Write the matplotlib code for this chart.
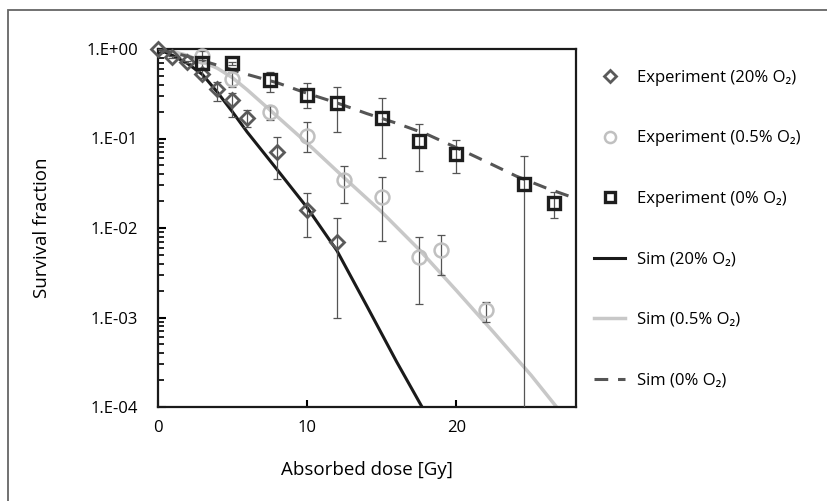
import numpy as np
import matplotlib
matplotlib.use('Agg')
from matplotlib import pyplot as plt
from matplotlib.patches import Rectangle
from matplotlib.ticker import FixedLocator, FixedFormatter, LogLocator, NullFormatter

plt.rcParams['font.family'] = ['Open Sans', 'DejaVu Sans']

# experiment, 20% O2
dose_20 = [0, 1, 2, 3, 4, 5, 6, 8, 10, 12]
sf_20 = [1.0, 0.82, 0.72, 0.53, 0.36, 0.27, 0.17, 0.071, 0.016, 0.0069]
lo_20 = [1.0, 0.80, 0.70, 0.47, 0.26, 0.175, 0.135, 0.035, 0.008, 0.001]
hi_20 = [1.0, 0.84, 0.74, 0.60, 0.43, 0.32, 0.21, 0.105, 0.0245, 0.013]

# experiment, 0.5% O2
dose_05 = [3, 5, 7.5, 10, 12.5, 15, 17.5, 19, 22]
sf_05 = [0.84, 0.46, 0.20, 0.107, 0.034, 0.022, 0.0047, 0.0057, 0.0012]
lo_05 = [0.76, 0.38, 0.16, 0.071, 0.019, 0.0072, 0.0014, 0.003, 0.0009]
hi_05 = [0.95, 0.56, 0.23, 0.153, 0.049, 0.037, 0.008, 0.0084, 0.0015]

# experiment, 0% O2
dose_0 = [3, 5, 7.5, 10, 12, 15, 17.5, 20, 24.5, 26.5]
sf_0 = [0.69, 0.69, 0.45, 0.31, 0.25, 0.168, 0.094, 0.067, 0.031, 0.019]
lo_0 = [0.62, 0.66, 0.33, 0.217, 0.119, 0.06, 0.043, 0.041, 1e-5, 0.013]
hi_0 = [0.82, 0.72, 0.56, 0.42, 0.38, 0.28, 0.144, 0.095, 0.064, 0.025]

# simulations
sim_d_20 = [0, 1, 2, 3, 4, 5, 6, 8, 10, 12, 14, 16, 17.7]
sim_20 = [1.0, 0.85, 0.69, 0.52, 0.33, 0.20, 0.118, 0.045, 0.017, 0.0056, 0.00135, 0.00032, 0.0001]
sim_d_05 = [0, 1, 2, 3, 4, 5, 6, 7.5, 10, 12.5, 15, 17.5, 20, 22.5, 25, 26.7]
sim_05 = [1.0, 0.94, 0.85, 0.72, 0.61, 0.48, 0.35, 0.21, 0.089, 0.0363, 0.0151, 0.00575,
          0.0020, 0.00068, 0.000226, 0.0001]
sim_d_0 = [0, 2, 4, 6, 8, 10, 12, 14, 16, 18, 20, 22, 24, 26, 27.8]
sim_0 = [1.0, 0.83, 0.66, 0.52, 0.42, 0.32, 0.25, 0.19, 0.148, 0.112, 0.079, 0.055,
         0.038, 0.028, 0.0219]


def yerr(v, lo, hi):
    v = np.array(v)
    return [v - np.array(lo), np.array(hi) - v]


fig = plt.figure(figsize=(8.27, 5.01), dpi=100)
ax = fig.add_axes([157.5 / 827, 1 - 407 / 501, (576 - 157.5) / 827, (407 - 49) / 501])

ax.plot(sim_d_20, sim_20, color='#1a1a1a', lw=2.2, label='Sim (20% O\u2082)', zorder=2)
ax.plot(sim_d_05, sim_05, color='#c8c8c8', lw=2.5, label='Sim (0.5% O\u2082)', zorder=2)
ax.plot(sim_d_0, sim_0, color='#555555', lw=2.2, dashes=(4.5, 3.2), label='Sim (0% O\u2082)', zorder=2)

ebkw = dict(fmt='none', ecolor='#555555', elinewidth=0.9, capsize=2.6, capthick=0.9, zorder=3)
ax.errorbar(dose_20, sf_20, yerr=yerr(sf_20, lo_20, hi_20), **ebkw)
ax.errorbar(dose_05, sf_05, yerr=yerr(sf_05, lo_05, hi_05), **ebkw)
ax.errorbar(dose_0, sf_0, yerr=yerr(sf_0, lo_0, hi_0), **ebkw)

ax.plot(dose_20, sf_20, ls='none', marker='D', ms=7.5, mfc='none', mec='#5a5a5a', mew=2,
        label='Experiment (20% O\u2082)', zorder=4, clip_on=False)
ax.plot(dose_05, sf_05, ls='none', marker='o', ms=10, mfc='none', mec='#c0c0c0', mew=1.8,
        label='Experiment (0.5% O\u2082)', zorder=4, clip_on=False)
ax.plot(dose_0, sf_0, ls='none', marker='s', ms=9, mfc='none', mec='#1e1e1e', mew=2.4,
        label='Experiment (0% O\u2082)', zorder=4, clip_on=False)

ax.set_yscale('log')
ax.set_xlim(0, 28)
ax.set_ylim(1e-4, 1)
ax.set_xticks([0, 10, 20])
ax.yaxis.set_major_locator(FixedLocator([1e-4, 1e-3, 1e-2, 1e-1, 1]))
ax.yaxis.set_major_formatter(FixedFormatter(['1.E-04', '1.E-03', '1.E-02', '1.E-01', '1.E+00']))
ax.yaxis.set_minor_locator(LogLocator(base=10, subs=np.arange(2, 10)))
ax.yaxis.set_minor_formatter(NullFormatter())
ax.tick_params(axis='y', which='major', direction='in', length=6, width=1.5, pad=14, labelsize=12)
ax.tick_params(axis='y', which='minor', direction='in', length=4, width=1.2)
ax.tick_params(axis='x', which='major', direction='in', length=5, width=1.5, pad=9, labelsize=12)
for s in ax.spines.values():
    s.set_linewidth(1.6)
    s.set_color('#1a1a1a')

ax.set_xlabel('Absorbed dose [Gy]', fontsize=13.5)
ax.set_ylabel('Survival fraction', fontsize=13.5)
ax.xaxis.set_label_coords(0.5, -0.15)
ax.yaxis.set_label_coords(-0.255, 0.5)

h, l = ax.get_legend_handles_labels()
order = [3, 4, 5, 0, 1, 2]
ax.legend([h[i] for i in order], [l[i] for i in order], loc='upper left',
          bbox_to_anchor=(594 / 827, 1 - 70 / 501), bbox_transform=fig.transFigure,
          frameon=False, fontsize=12, handlelength=1.86, handletextpad=0.72,
          labelspacing=2.67, borderpad=0, borderaxespad=0, markerscale=0.8)

fig.patches.append(Rectangle((8 / 827, -0.1), 1.2, 1.1 - 10 / 501, transform=fig.transFigure,
                             fill=False, edgecolor='#666666', lw=1.3))

plt.savefig('out.png', dpi=100)
